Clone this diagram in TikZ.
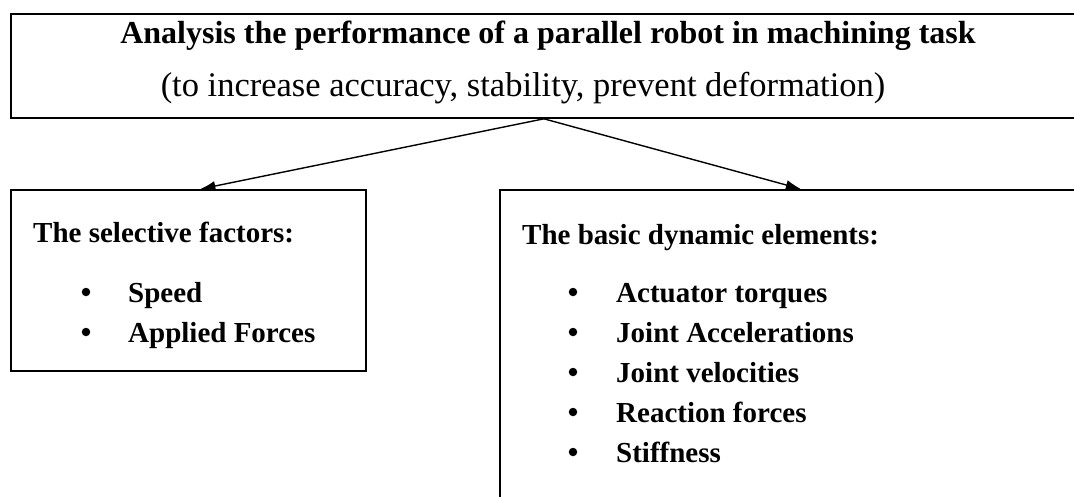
\documentclass[tikz,border=0pt]{standalone}
\usepackage{fontspec}
\setmainfont{Liberation Serif}
\usetikzlibrary{positioning, arrows.meta}

\tikzset{
  box/.style={draw, line width=1.8pt, inner sep=0pt, anchor=north west},
  headline/.style={anchor=base, inner sep=0pt, font=\bfseries\fontsize{32}{38}\selectfont},
  subline/.style={anchor=base, inner sep=0pt, font=\fontsize{34.5}{40}\selectfont},
  head/.style={anchor=base west, inner sep=0pt, font=\bfseries\fontsize{29}{34}\selectfont},
  bul/.style={circle, fill, inner sep=0pt, minimum size=8.5pt},
}

\begin{document}
\begin{tikzpicture}[x=1pt, y=-1pt, >={Latex[length=15pt,width=10pt]}]
  \useasboundingbox (0,0) rectangle (1074,496);
  \clip (0,0) rectangle (1074,496);

  % boxes
  \node[box, minimum width=1066pt, minimum height=104pt] (goal) at (10,13) {};
  \node[box, minimum width=355pt, minimum height=181pt] (factors) at (10,189) {};
  \node[box, minimum width=580pt, minimum height=340pt] (elements) at (499,189) {};

  % top text
  \node[headline] (goaltitle) at (548,43) {Analysis the performance of a parallel robot in machining task};
  \node[subline] (goalsub) at (523,96) {(to increase accuracy, stability, prevent deformation)};

  % left box
  \node[head] (factorshead) at (33,242) {The selective factors:};
  \foreach \t [count=\i] in {Speed, Applied Forces} {
    \node[bul] (fdot\i) at (86,252+40*\i) {};
    \node[head] (fitem\i) at (128,262+40*\i) {\t};
  }

  % right box
  \node[head] (elementshead) at (522,244) {The basic dynamic elements:};
  \foreach \t [count=\i] in {Actuator torques, Joint Accelerations, Joint velocities, Reaction forces, Stiffness} {
    \node[bul] (edot\i) at (573,252+40*\i) {};
    \node[head] (eitem\i) at (616,262+40*\i) {\t};
  }

  % arrows
  \draw[->, line width=1.4pt] (goal.south) -- ([xshift=12pt]factors.north);
  \draw[->, line width=1.4pt] (goal.south) -- ([xshift=11pt]elements.north);
\end{tikzpicture}
\end{document}
